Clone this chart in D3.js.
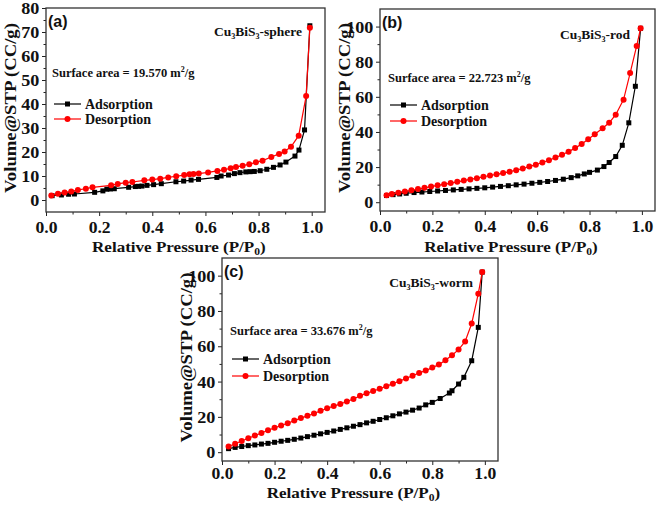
<!DOCTYPE html>
<html>
<head>
<meta charset="utf-8">
<script src="https://cdnjs.cloudflare.com/ajax/libs/d3/7.8.5/d3.min.js"></script>
<style>
  body { margin: 0; background: #fff; }
  svg text { font-family: "Liberation Serif", "Times New Roman", serif; font-weight: bold; fill: #111; }
</style>
</head>
<body>
<div id="chart"></div>
<script>
const width = 661;
const height = 505;

// [P/P0, volume]
const sphereAdsorption = [[0.023, 1.8], [0.058, 2.1], [0.085, 2.4], [0.107, 2.5], [0.183, 3.2], [0.214, 3.8],
  [0.229, 4.5], [0.242, 4.6], [0.257, 4.7], [0.311, 5.3], [0.336, 5.6], [0.348, 5.7], [0.361, 5.8], [0.38, 6.1],
  [0.405, 6.4], [0.434, 6.8], [0.489, 7.6], [0.518, 7.9], [0.546, 8.3], [0.574, 8.6], [0.643, 9.4], [0.659, 10.0],
  [0.687, 10.4], [0.709, 11.0], [0.73, 11.4], [0.752, 11.7], [0.768, 11.8], [0.784, 11.9], [0.806, 12.2],
  [0.831, 12.8], [0.856, 13.6], [0.881, 14.6], [0.903, 15.8], [0.937, 18.3], [0.952, 20.8], [0.973, 29.2], [0.993, 72.6]];
const sphereDesorption = [[0.02, 1.9], [0.045, 2.6], [0.07, 3.1], [0.095, 3.5], [0.12, 4.2], [0.15, 4.7],
  [0.175, 5.3], [0.245, 6.1], [0.27, 6.7], [0.30, 7.2], [0.325, 7.5], [0.37, 8.2], [0.40, 8.5], [0.43, 8.9],
  [0.46, 9.4], [0.49, 9.9], [0.52, 10.4], [0.54, 10.7], [0.555, 10.8], [0.575, 11.0], [0.61, 11.5], [0.645, 12.1],
  [0.67, 12.6], [0.695, 13.2], [0.715, 13.7], [0.74, 14.3], [0.765, 14.9], [0.79, 15.7], [0.815, 16.4],
  [0.848, 17.9], [0.877, 19.2], [0.898, 20.2], [0.922, 22.2], [0.951, 26.8], [0.979, 43.3], [0.993, 71.8]];

const rodAdsorption = [[0.025, 3.8], [0.05, 4.3], [0.075, 4.7], [0.1, 5.1], [0.13, 5.5], [0.16, 5.8], [0.19, 6.1],
  [0.22, 6.4], [0.25, 6.7], [0.28, 7.0], [0.31, 7.3], [0.34, 7.6], [0.37, 7.9], [0.40, 8.2], [0.43, 8.6],
  [0.46, 9.0], [0.49, 9.4], [0.52, 9.9], [0.55, 10.3], [0.58, 10.8], [0.61, 11.3], [0.64, 11.8], [0.67, 12.4],
  [0.70, 13.1], [0.73, 14.0], [0.755, 15.0], [0.78, 16.1], [0.80, 17.0], [0.83, 18.3], [0.855, 20.3],
  [0.875, 22.6], [0.90, 26.0], [0.925, 32.4], [0.95, 45.2], [0.975, 66.0], [0.995, 99.0]];
const rodDesorption = [[0.025, 4.0], [0.045, 4.7], [0.07, 5.4], [0.095, 6.1], [0.12, 6.8], [0.145, 7.5],
  [0.17, 8.2], [0.195, 8.9], [0.22, 9.6], [0.245, 10.2], [0.27, 10.9], [0.295, 11.6], [0.32, 12.3], [0.345, 13.0],
  [0.37, 13.7], [0.395, 14.5], [0.42, 15.2], [0.445, 15.9], [0.47, 16.6], [0.495, 17.4], [0.52, 18.2],
  [0.545, 19.2], [0.57, 20.3], [0.595, 21.4], [0.62, 22.6], [0.645, 23.9], [0.67, 25.4], [0.695, 27.0],
  [0.72, 28.8], [0.745, 30.8], [0.77, 33.2], [0.795, 35.8], [0.82, 38.7], [0.85, 42.1], [0.875, 45.2],
  [0.9, 49.8], [0.93, 58.4], [0.955, 73.5], [0.98, 89.0], [0.995, 99.0]];

const wormAdsorption = [[0.025, 2.0], [0.05, 2.7], [0.075, 3.2], [0.1, 3.7], [0.125, 4.1], [0.15, 4.6],
  [0.175, 5.0], [0.2, 5.6], [0.225, 6.2], [0.25, 6.7], [0.275, 7.3], [0.3, 8.0], [0.325, 8.8], [0.35, 9.6],
  [0.375, 10.4], [0.4, 11.2], [0.425, 12.0], [0.45, 12.9], [0.475, 13.8], [0.5, 14.7], [0.525, 15.6],
  [0.55, 16.6], [0.575, 17.5], [0.6, 18.5], [0.625, 19.5], [0.65, 20.6], [0.675, 21.7], [0.7, 22.7],
  [0.725, 23.8], [0.75, 25.0], [0.775, 26.8], [0.8, 28.2], [0.83, 30.4], [0.865, 33.5], [0.875, 34.8],
  [0.9, 38.6], [0.92, 42.4], [0.95, 51.8], [0.975, 70.7], [0.99, 102.0]];
const wormDesorption = [[0.025, 3.2], [0.05, 4.8], [0.075, 6.3], [0.1, 7.9], [0.125, 9.4], [0.15, 10.9],
  [0.175, 12.4], [0.2, 13.8], [0.225, 15.1], [0.25, 16.4], [0.275, 17.9], [0.3, 19.3], [0.325, 20.6],
  [0.35, 21.9], [0.375, 23.4], [0.4, 24.9], [0.425, 26.1], [0.45, 27.3], [0.475, 28.7], [0.5, 30.1],
  [0.525, 31.9], [0.55, 33.4], [0.575, 34.6], [0.6, 35.9], [0.625, 37.3], [0.65, 38.8], [0.675, 40.2],
  [0.7, 41.8], [0.725, 43.3], [0.75, 44.9], [0.775, 46.2], [0.8, 47.9], [0.825, 49.6], [0.85, 52.1],
  [0.875, 54.9], [0.9, 58.1], [0.925, 62.7], [0.95, 72.9], [0.975, 89.8], [0.99, 102.0]];

const xTicks = [0.0, 0.2, 0.4, 0.6, 0.8, 1.0];
const sphereYTicks = [0, 10, 20, 30, 40, 50, 60, 70, 80];
const rodYTicks = [0, 20, 40, 60, 80, 100];
const wormYTicks = [0, 20, 40, 60, 80, 100];
const seriesNames = ['Adsorption', 'Desorption'];

const panels = [
  { tag: '(a)', sample: 'sphere', area: '19.570', ads: sphereAdsorption, des: sphereDesorption,
    yTicks: sphereYTicks, yDomain: [-5, 80], box: { x0: 46, x1: 325, y0: 8, y1: 212 },
    tickGap: 6, titleGap: 40, saX: 6, saY: 69, legY: 96, legStep: 15, nameX: 23, nameY: 28 },
  { tag: '(b)', sample: 'rod', area: '22.723', ads: rodAdsorption, des: rodDesorption,
    yTicks: rodYTicks, yDomain: [-5, 110], box: { x0: 380, x1: 655, y0: 9, y1: 211 },
    tickGap: 6, titleGap: 41, saX: 8, saY: 73, legY: 96, legStep: 16, nameX: 25, nameY: 30 },
  { tag: '(c)', sample: 'worm', area: '33.676', ads: wormAdsorption, des: wormDesorption,
    yTicks: wormYTicks, yDomain: [-5, 110], box: { x0: 222, x1: 498, y0: 258, y1: 461 },
    tickGap: 3, titleGap: 37, saX: 8, saY: 77, legY: 101, legStep: 17, nameX: 25, nameY: 29 },
];

const stretch = 1.1;

const svg = d3.select('#chart')
  .append('svg')
  .attr('width', width)
  .attr('height', height);

function drawPanel(p) {
  const b = p.box;
  const x = d3.scaleLinear().domain([0, 1.05]).range([b.x0, b.x1]);
  const y = d3.scaleLinear().domain(p.yDomain).range([b.y1, b.y0]);
  const g = svg.append('g');

  // minor ticks first, then major ones with labels
  const yStep = p.yTicks[1] - p.yTicks[0];
  const yMinor = d3.range(p.yTicks[0] + yStep / 2, p.yDomain[1], yStep);
  g.append('g')
    .attr('transform', `translate(${b.x0},0)`)
    .call(d3.axisLeft(y).tickValues(yMinor).tickSize(2.5).tickFormat(''))
    .call(s => s.select('.domain').remove());
  g.append('g')
    .attr('transform', `translate(0,${b.y1})`)
    .call(d3.axisBottom(x).tickValues([0.1, 0.3, 0.5, 0.7, 0.9]).tickSize(2.5).tickFormat(''))
    .call(s => s.select('.domain').remove());

  const yAx = g.append('g')
    .attr('transform', `translate(${b.x0},0)`)
    .call(d3.axisLeft(y).tickValues(p.yTicks).tickSize(4).tickPadding(2).tickFormat(d3.format('d')));
  yAx.select('.domain').remove();
  yAx.selectAll('text').attr('font-size', 16.5).attr('dy', '0.34em')
    .attr('transform', `scale(${stretch},1)`);

  const xAx = g.append('g')
    .attr('transform', `translate(0,${b.y1})`)
    .call(d3.axisBottom(x).tickValues(xTicks).tickSize(4).tickPadding(p.tickGap).tickFormat(d3.format('.1f')));
  xAx.select('.domain').remove();
  xAx.selectAll('text').attr('font-size', 16).attr('dy', '0.71em')
    .attr('transform', `scale(${stretch},1)`);

  g.selectAll('.tick line').attr('stroke', '#222').attr('stroke-width', 1);
  g.selectAll('.tick text').attr('fill', '#111')
    .style('font-family', '"Liberation Serif", serif').style('font-weight', 'bold');

  g.append('rect')
    .attr('x', b.x0).attr('y', b.y0)
    .attr('width', b.x1 - b.x0).attr('height', b.y1 - b.y0)
    .attr('fill', 'none').attr('stroke', '#333').attr('stroke-width', 1.3);

  const line = d3.line().x(d => x(d[0])).y(d => y(d[1]));

  g.append('path').datum(p.ads)
    .attr('d', line).attr('fill', 'none').attr('stroke', '#000').attr('stroke-width', 1.2);
  g.selectAll('.sq').data(p.ads).enter().append('rect')
    .attr('x', d => x(d[0]) - 2.5).attr('y', d => y(d[1]) - 2.5)
    .attr('width', 5).attr('height', 5).attr('fill', '#000');

  g.append('path').datum(p.des)
    .attr('d', line).attr('fill', 'none').attr('stroke', '#f00').attr('stroke-width', 1.2);
  g.selectAll('.ci').data(p.des).enter().append('circle')
    .attr('cx', d => x(d[0])).attr('cy', d => y(d[1])).attr('r', 3)
    .attr('fill', '#f00');

  // panel tag
  g.append('text')
    .attr('x', b.x0 + 2).attr('y', b.y0 + 19)
    .style('font-family', '"Liberation Sans", Arial, sans-serif')
    .attr('font-size', 16)
    .text(p.tag);

  // sample name, right aligned near the top
  const nm = g.append('text')
    .attr('x', b.x1 - p.nameX).attr('y', b.y0 + p.nameY)
    .attr('text-anchor', 'end')
    .attr('font-size', 13.5);
  nm.append('tspan').text('Cu');
  nm.append('tspan').attr('font-size', 8).attr('dy', 3).text('3');
  nm.append('tspan').attr('dy', -3).text('BiS');
  nm.append('tspan').attr('font-size', 8).attr('dy', 3).text('3');
  nm.append('tspan').attr('dy', -3).text('-' + p.sample);

  // surface area
  const sa = g.append('text')
    .attr('x', b.x0 + p.saX).attr('y', b.y0 + p.saY)
    .attr('font-size', 12.5);
  sa.append('tspan').text(`Surface area = ${p.area} m`);
  sa.append('tspan').attr('font-size', 8).attr('dy', -5).text('2');
  sa.append('tspan').attr('dy', 5).text('/g');

  // legend
  const lg = g.append('g').attr('transform', `translate(${b.x0 + p.saX + 2},${b.y0 + p.legY})`);
  seriesNames.forEach((name, i) => {
    const col = i === 0 ? '#000' : '#f00';
    const row = lg.append('g').attr('transform', `translate(0,${i * p.legStep})`);
    row.append('line').attr('x1', 0).attr('x2', 27).attr('y1', 0).attr('y2', 0)
      .attr('stroke', col).attr('stroke-width', 1.2);
    if (i === 0) {
      row.append('rect').attr('x', 11).attr('y', -2.5).attr('width', 5).attr('height', 5).attr('fill', col);
    } else {
      row.append('circle').attr('cx', 13.5).attr('cy', 0).attr('r', 3).attr('fill', col);
    }
    row.append('text').attr('x', 31).attr('y', 5).attr('font-size', 14).text(name);
  });

  // axis titles
  const cx = (x(0) + x(1)) / 2;
  const xt = g.append('text')
    .attr('transform', `translate(${cx},${b.y1 + p.titleGap}) scale(${stretch},1)`)
    .attr('text-anchor', 'middle')
    .attr('font-size', 15.5);
  xt.append('tspan').text('Relative Pressure (P/P');
  xt.append('tspan').attr('font-size', 10.5).attr('dy', 3).text('0');
  xt.append('tspan').attr('dy', -3).text(')');

  g.append('text')
    .attr('transform', `translate(${b.x0 - 30},${(b.y0 + b.y1) / 2 - 2}) rotate(-90) scale(${stretch},1)`)
    .attr('text-anchor', 'middle')
    .attr('font-size', 17)
    .text('Volume@STP (CC/g)');
}

panels.forEach(drawPanel);
</script>
</body>
</html>
